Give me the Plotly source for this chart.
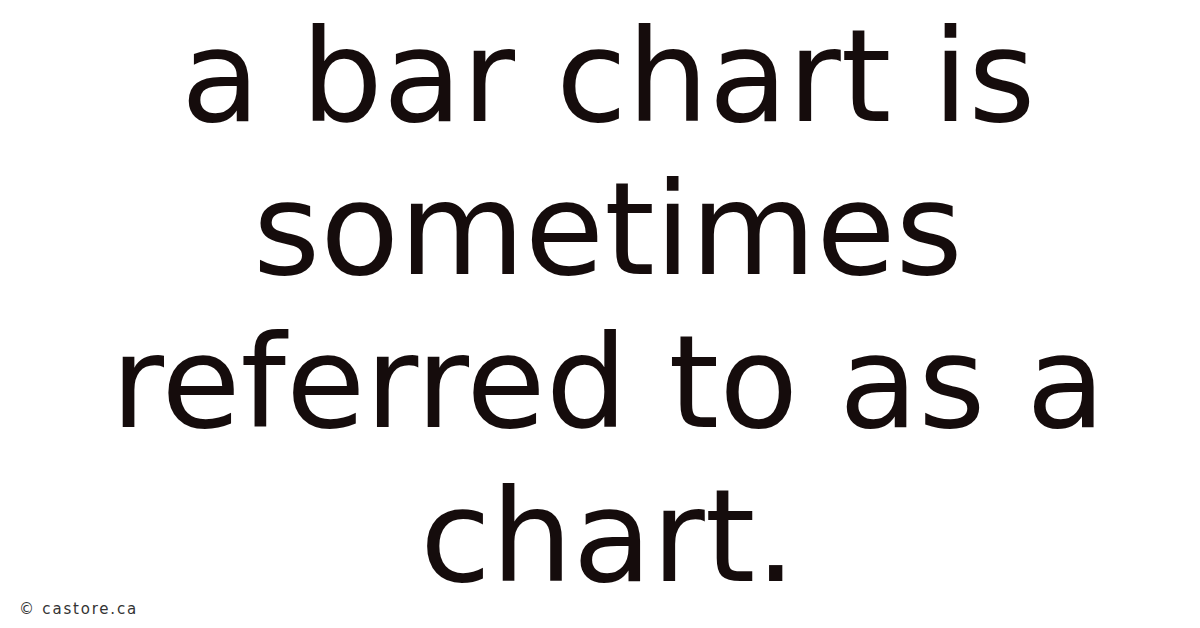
import plotly.graph_objects as go

lines = ["a bar chart is", "sometimes", "referred to as a", "chart."]
line_centers_px = [68, 221, 374, 528]
watermark = "© castore.ca"

W, H = 1200, 628
fig = go.Figure()
for txt, cy in zip(lines, line_centers_px):
    fig.add_annotation(
        text=txt, x=0.5, y=1 - cy / H, xref="paper", yref="paper",
        xanchor="center", yanchor="middle", showarrow=False, borderpad=0,
        font=dict(family="DejaVu Sans", size=129, color="#150c0c"),
    )
fig.add_annotation(
    text='<span style="letter-spacing:1.8px">' + watermark + "</span>",
    x=9 / W, y=1 - 601 / H, xref="paper", yref="paper",
    xanchor="left", yanchor="middle", showarrow=False,
    font=dict(family="DejaVu Sans", size=15, color="#333333"),
)
fig.update_layout(
    width=W, height=H, margin=dict(l=0, r=0, t=0, b=0),
    paper_bgcolor="white", plot_bgcolor="white",
    xaxis=dict(visible=False), yaxis=dict(visible=False),
    showlegend=False,
)
fig.write_html("out.html", config={"displayModeBar": False})
